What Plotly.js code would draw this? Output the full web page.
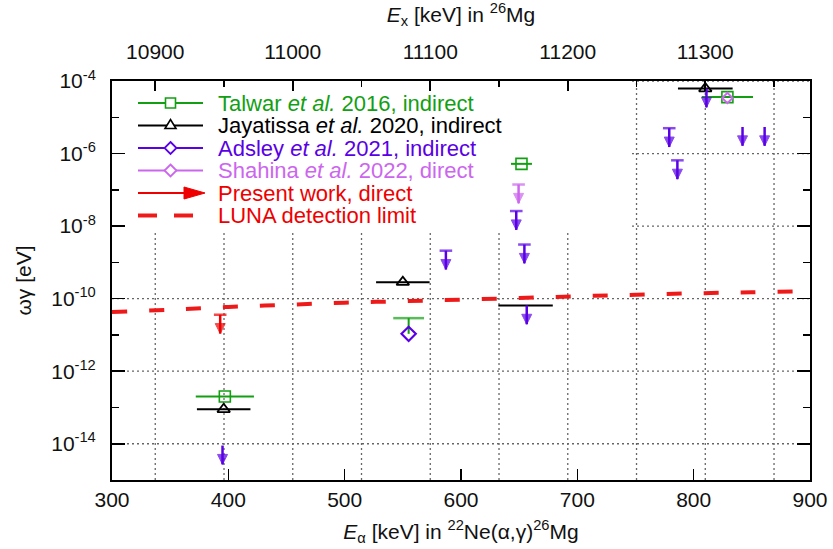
<!DOCTYPE html>
<html><head><meta charset="utf-8">
<script src="https://cdn.plot.ly/plotly-3.0.1.min.js"></script>
<style>html,body{margin:0;padding:0;background:#fff}#chart{width:833px;height:549px}</style>
</head><body><div id="chart"></div>
<script>
// ---------------- data ----------------
// Talwar et al. 2016, indirect
const talwarE   = [397, 652, 829];
const talwarWg  = [2.0e-13, 5.2e-7, 3.6e-5];
const talwarDE  = [25, 9, 22];
const talwarLimE  = [555];
const talwarLimHi = [2.9e-11];
const talwarLimLo = [1.07e-11];
// Jayatissa et al. 2020, indirect
const jayaE   = [396, 550, 810];
const jayaWg  = [8.9e-14, 2.85e-10, 6.2e-5];
const jayaDE  = [23, 23, 23.5];
const jayaBarE  = [655.5];
const jayaBarWg = [6.5e-11];
const jayaBarDE = [23.4];
// Adsley et al. 2021, indirect
const adsleyE  = [555];
const adsleyWg = [1.07e-11];
const adsleyULE  = [587, 647.5, 654.5, 779, 786];
const adsleyULWg = [2.1e-9, 2.6e-8, 3.1e-9, 5.0e-6, 6.5e-7];
const adsleyUL2E  = [395, 656.5, 811, 842, 861];
const adsleyUL2Wg = [8.9e-15, 6.5e-11, 6.2e-5, 5.4e-6, 5.4e-6];
// Shahina et al. 2022, direct
const shahinaE  = [829];
const shahinaWg = [3.4e-5];
const shahinaULE  = [649.5];
const shahinaULWg = [1.4e-7];
// Present work, direct
const presentULE  = [393];
const presentULWg = [3.6e-11];
// LUNA detection limit
const lunaE  = [300, 350, 400, 450, 500, 550, 600, 650, 700, 750, 800, 850, 900];
const lunaWg = [4.25e-11, 4.98e-11, 5.9e-11, 6.75e-11, 7.76e-11, 8.48e-11, 9.4e-11, 1.04e-10, 1.16e-10, 1.28e-10, 1.40e-10, 1.50e-10, 1.60e-10];
// axis ticks
const exTicks = [10900, 11000, 11100, 11200, 11300];
const exGrid  = [10900, 10950, 11000, 11050, 11100, 11150, 11200, 11250, 11300, 11350];
const eaTicks = [300, 400, 500, 600, 700, 800, 900];
const yMajorExp = [-14, -12, -10, -8, -6, -4];
const yMinorExp = [-15, -13, -11, -9, -7, -5];

// ---------------- styles ----------------
const GREEN = '#12a012', BLACK = '#000000', PURPLE = '#5a00e6', VIOLET = '#cc66ee', RED = '#ee0000';
const FONT = 'Liberation Sans, Arial, Helvetica, sans-serif';
const FS = 21, KFS = 22;
const Q = 10614.74, RATIO = 21.9914 / 25.9940; // Ex = Q + Ea*m(22Ne)/m(26Mg)
const toEx = e => Q + e * RATIO;
const GRIDLINE = {color: '#666', width: 1.3, dash: '2px,3px'};

function ulTrace(E, top, color, cap, name) {
  const x = [], y = [], sym = [], size = [], lw = [];
  const drop = Math.pow(10, -0.52);
  E.forEach((e, i) => {
    x.push(e, e, null);
    y.push(top[i], top[i] * drop, null);
    sym.push('line-ew', 'arrow-down', 'circle');
    size.push(cap ? 9 : 0, 10, 0);
    lw.push(cap ? 2.5 : 0, 1, 0);
  });
  return {type: 'scatter', mode: 'lines+markers', x, y, name, showlegend: false, hoverinfo: 'skip',
    line: {color, width: 2.5},
    marker: {symbol: sym, size, color, line: {color, width: lw}}};
}

const traces = [
  {type: 'scatter', mode: 'lines', x: lunaE, y: lunaWg, name: 'LUNA detection limit', showlegend: false,
   line: {color: '#ee1a1a', width: 4, dash: '15px,22px', shape: 'spline'}},
  {type: 'scatter', mode: 'lines+markers', x: [talwarLimE[0], talwarLimE[0]], y: [talwarLimLo[0], talwarLimHi[0]],
   showlegend: false, name: 'Talwar limit', line: {color: GREEN, width: 2},
   marker: {symbol: ['circle', 'line-ew'], size: [0, 22], color: GREEN, line: {color: GREEN, width: [0, 2.5]}}},
  {type: 'scatter', mode: 'markers', x: jayaBarE, y: jayaBarWg, name: 'Jayatissa et al. 2020', showlegend: false,
   marker: {size: 1, opacity: 0, color: BLACK},
   error_x: {type: 'data', array: jayaBarDE, width: 0, thickness: 2, color: BLACK}},
  {type: 'scatter', mode: 'markers', x: talwarE, y: talwarWg, name: 'Talwar et al. 2016, indirect', showlegend: false,
   marker: {symbol: 'square-open', size: 11, color: GREEN, line: {color: GREEN, width: 1.6}},
   error_x: {type: 'data', array: talwarDE, width: 0, thickness: 2, color: GREEN}},
  {type: 'scatter', mode: 'markers', x: jayaE, y: jayaWg, name: 'Jayatissa et al. 2020, indirect', showlegend: false,
   marker: {symbol: 'triangle-up-open', size: 11, color: BLACK, line: {color: BLACK, width: 1.8}},
   error_x: {type: 'data', array: jayaDE, width: 0, thickness: 2, color: BLACK}},
  ulTrace(adsleyULE, adsleyULWg, PURPLE, true, 'Adsley et al. 2021 (upper limits)'),
  ulTrace(adsleyUL2E, adsleyUL2Wg, PURPLE, false, 'Adsley et al. 2021 (upper limits)'),
  ulTrace(shahinaULE, shahinaULWg, VIOLET, true, 'Shahina et al. 2022 (upper limit)'),
  ulTrace(presentULE, presentULWg, RED, true, 'Present work (upper limit)'),
  {type: 'scatter', mode: 'markers', x: adsleyE, y: adsleyWg, name: 'Adsley et al. 2021, indirect', showlegend: false,
   marker: {symbol: 'diamond-open', size: 11, color: PURPLE, line: {color: PURPLE, width: 2.2}}},
  {type: 'scatter', mode: 'markers', x: shahinaE, y: shahinaWg, name: 'Shahina et al. 2022, direct', showlegend: false,
   marker: {symbol: 'diamond-open', size: 8, color: VIOLET, line: {color: VIOLET, width: 2}}},
  {type: 'scatter', mode: 'markers', x: [toEx(300)], y: [1e-20], xaxis: 'x2', yaxis: 'y', showlegend: false,
   hoverinfo: 'skip', marker: {opacity: 0}}
];

// ---------------- grid (dotted) + opaque key box, as shapes below the traces ----------------
const L = 112, T = 81, W = 698, H = 399;
const px = p => (p - L) / W, py = p => (T + H - p) / H;
const shapes = [];
exGrid.forEach(v => shapes.push({type: 'line', layer: 'below', xref: 'x2', yref: 'y domain',
  x0: v, x1: v, y0: 0, y1: 1, line: GRIDLINE}));
yMajorExp.forEach(e => shapes.push({type: 'line', layer: 'below', xref: 'x domain', yref: 'y',
  x0: 0, x1: 1, y0: Math.pow(10, e), y1: Math.pow(10, e), line: GRIDLINE}));
shapes.push({type: 'rect', layer: 'below', xref: 'paper', yref: 'paper', x0: 0, x1: px(632), y0: py(231), y1: 1,
  fillcolor: '#ffffff', line: {width: 0}});

// ---------------- manual gnuplot-style key ----------------
const rows = [103, 125.5, 148, 170.5, 193, 215.5];
const keyText = [
  ['Talwar ', '<i>et al.</i>', ' 2016, indirect', GREEN],
  ['Jayatissa ', '<i>et al.</i>', ' 2020, indirect', BLACK],
  ['Adsley ', '<i>et al.</i>', ' 2021, indirect', PURPLE],
  ['Shahina ', '<i>et al.</i>', ' 2022, direct', VIOLET],
  ['Present work, direct', '', '', RED],
  ['LUNA detection limit', '', '', RED]
];
const seg = (x0, x1, y, color, w) => ({type: 'line', xref: 'paper', yref: 'paper', x0: px(x0), x1: px(x1), y0: py(y), y1: py(y), line: {color, width: w}});
const path = (pts, color, fill, w) => ({type: 'path', xref: 'paper', yref: 'paper',
  path: 'M' + pts.map(p => px(p[0]) + ',' + py(p[1])).join('L') + 'Z',
  line: {color, width: w}, fillcolor: fill});
const cx = 170.5;
shapes.push(seg(138, 203, rows[0], GREEN, 2));
shapes.push({type: 'rect', xref: 'paper', yref: 'paper', x0: px(cx - 5), x1: px(cx + 5), y0: py(rows[0] + 5), y1: py(rows[0] - 5), line: {color: GREEN, width: 1.6}, fillcolor: '#ffffff'});
shapes.push(seg(138, 203, rows[1], BLACK, 2));
shapes.push(path([[cx - 5.5, rows[1] + 3], [cx + 5.5, rows[1] + 3], [cx, rows[1] - 6]], BLACK, '#ffffff', 1.6));
shapes.push(seg(138, 203, rows[2], PURPLE, 2));
shapes.push(path([[cx, rows[2] - 6], [cx + 6, rows[2]], [cx, rows[2] + 6], [cx - 6, rows[2]]], PURPLE, '#ffffff', 1.8));
shapes.push(seg(138, 203, rows[3], VIOLET, 2));
shapes.push(path([[cx, rows[3] - 6], [cx + 6, rows[3]], [cx, rows[3] + 6], [cx - 6, rows[3]]], VIOLET, '#ffffff', 1.8));
shapes.push(seg(138, 186, rows[4], RED, 2));
shapes.push(path([[184, rows[4] - 6], [205, rows[4]], [184, rows[4] + 6]], RED, RED, 1));
shapes.push(seg(138, 157, rows[5], '#ee1a1a', 4));
shapes.push(seg(174, 193, rows[5], '#ee1a1a', 4));

const annotations = keyText.map((k, i) => ({
  xref: 'paper', yref: 'paper', x: px(216), y: py(rows[i]), xanchor: 'left', yanchor: 'middle',
  showarrow: false, font: {family: FONT, size: KFS, color: k[3]},
  text: k[0] + k[1] + k[2]
}));

const sup = e => '10<sup>' + e + '</sup>';
const layout = {
  width: 833, height: 549,
  margin: {l: L, r: 833 - L - W, t: T, b: 549 - T - H},
  paper_bgcolor: '#ffffff', plot_bgcolor: '#ffffff',
  font: {family: FONT, size: FS, color: '#111'},
  showlegend: false,
  xaxis: {
    range: [300, 900], tickmode: 'array', tickvals: eaTicks, ticktext: eaTicks.map(String),
    ticks: 'inside', ticklen: 11, tickwidth: 1.6,
    tickcolor: '#000', showline: true, linewidth: 2, linecolor: '#000', showgrid: false, zeroline: false,
    ticklabelstandoff: 0, tickfont: {family: FONT, size: FS, color: '#111'},
    title: {text: '<i>E</i><sub>α</sub> [keV] in <sup>22</sup>Ne(α,γ)<sup>26</sup>Mg', font: {family: FONT, size: FS, color: '#111'}, standoff: 14}
  },
  xaxis2: {
    overlaying: 'x', side: 'top', anchor: 'y', range: [toEx(300), toEx(900)],
    tickmode: 'array', tickvals: exTicks, ticktext: exTicks.map(String),
    ticks: 'inside', ticklen: 10, tickwidth: 1.6, tickcolor: '#000',
    showline: true, linewidth: 2, linecolor: '#000', zeroline: false, showgrid: false,
    ticklabelstandoff: 12, tickfont: {family: FONT, size: FS, color: '#111'},
    minor: {tickmode: 'array', tickvals: exGrid, ticks: 'inside', ticklen: 6, tickwidth: 1.4, tickcolor: '#000', showgrid: false},
    title: {text: '<i>E</i><sub>x</sub> [keV] in <sup>26</sup>Mg', font: {family: FONT, size: FS, color: '#111'}, standoff: 12}
  },
  yaxis: {
    type: 'log', range: [-15, -4], tickmode: 'array',
    tickvals: yMajorExp.map(e => Math.pow(10, e)), ticktext: yMajorExp.map(sup),
    ticks: 'inside', ticklen: 13, tickwidth: 1.6, tickcolor: '#000',
    showline: true, linewidth: 2, linecolor: '#000', mirror: 'ticks', zeroline: false, showgrid: false,
    ticklabelstandoff: 10, tickfont: {family: FONT, size: FS, color: '#111'},
    minor: {tickmode: 'array', tickvals: yMinorExp.map(e => Math.pow(10, e)), ticks: 'inside', ticklen: 7, tickwidth: 1.4, tickcolor: '#000', showgrid: false},
    title: {text: 'ωγ [eV]', font: {family: FONT, size: FS, color: '#111'}, standoff: 14}
  },
  shapes, annotations
};
Plotly.newPlot('chart', traces, layout, {staticPlot: true, displayModeBar: false});
</script></body></html>
